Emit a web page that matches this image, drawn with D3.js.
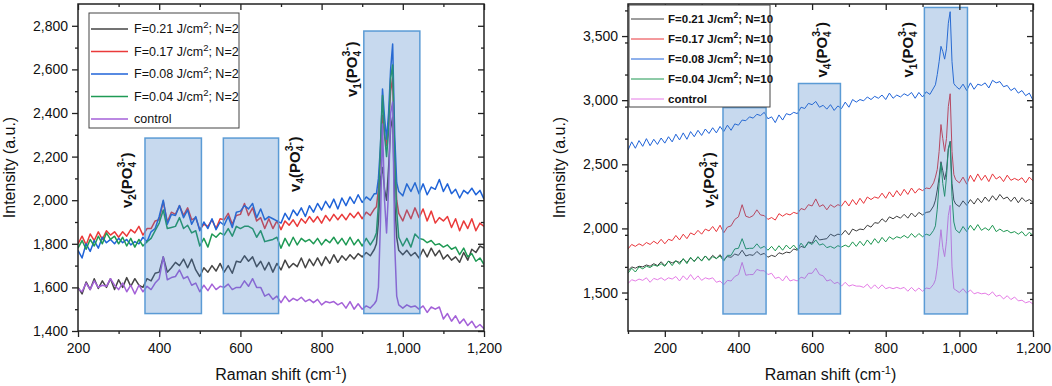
<!DOCTYPE html>
<html lang="en">
<head>
<meta charset="utf-8"/>
<script src="https://d3js.org/d3.v7.min.js"></script>
<style>
  body { margin: 0; background: #fff; }
  svg text { font-family: "Liberation Sans", Arial, sans-serif; fill: #111; }
</style>
</head>
<body>
<svg id="chart" width="1052" height="386"></svg>
<script>
// ---- sample positions (Raman shift, cm-1), finer around the v1 peaks ----
const shiftLeft = d3.range(200, 931, 10).concat(d3.range(935, 991, 5), d3.range(1000, 1201, 10));
const shiftRight = d3.range(100, 931, 10).concat(d3.range(935, 991, 5), d3.range(1000, 1201, 10));

const fluences = ["0.21", "0.17", "0.08", "0.04"];

// ---- left panel, N=2 ----
const n2_021 = [
  1600,1570,1625,1590,1640,1595,1630,1600,1640,1590,
  1635,1600,1645,1605,1640,1610,1600,1640,1630,1665,
  1670,1740,1670,1690,1715,1700,1730,1690,1730,1680,
  1650,1690,1670,1700,1675,1710,1670,1700,1665,1720,
  1715,1745,1720,1740,1695,1720,1680,1715,1670,1710,
  1680,1725,1690,1710,1695,1735,1690,1730,1700,1735,
  1700,1740,1710,1750,1715,1745,1725,1750,1730,1755,
  1740,1760,1745,1775,
  1800,1900,2100,2150,2050,2000,2150,2330,2380,2000,1830,1770,
  1750,1770,1745,1760,1735,1775,1740,1780,1745,1770,1730,1750,1725,1740,1715,1760,1725,1775,1760,1790,1780];
const n2_017 = [
  1800,1835,1795,1845,1815,1855,1820,1860,1840,1855,
  1830,1855,1835,1865,1850,1880,1840,1870,1870,1905,
  1910,1995,1900,1945,1935,1975,1930,1965,1910,1920,
  1865,1890,1880,1910,1870,1915,1910,1940,1890,1930,
  1935,1985,1930,1965,1905,1920,1870,1915,1870,1905,
  1865,1905,1885,1910,1880,1915,1895,1925,1900,1925,
  1895,1930,1905,1935,1910,1935,1910,1940,1920,1945,
  1915,1945,1930,1960,
  1970,2050,2200,2390,2300,2250,2350,2500,2560,2200,2000,1940,
  1905,1955,1915,1965,1920,1960,1905,1950,1895,1920,1905,1925,1875,1915,1860,1905,1870,1915,1860,1895,1880];
const n2_008 = [
  1770,1735,1800,1765,1815,1780,1830,1805,1820,1800,
  1825,1805,1820,1795,1810,1800,1830,1810,1855,1870,
  1925,2000,1890,1935,1930,1975,1920,1955,1890,1925,
  1860,1900,1870,1915,1865,1900,1885,1925,1875,1945,
  1950,1975,1960,1985,1920,1960,1910,1925,1915,1905,
  1895,1940,1910,1955,1930,1965,1925,1975,1945,1985,
  1955,1995,1965,2005,1960,2010,1975,2015,1985,2025,
  1990,2015,2000,2030,
  2030,2100,2250,2510,2380,2280,2400,2600,2716,2300,2080,2040,
  2020,2075,2040,2080,2030,2075,2025,2060,2050,2095,2040,2075,2030,2050,2010,2045,2030,2055,2025,2045,2005];
const n2_004 = [
  1780,1815,1775,1820,1790,1835,1800,1850,1820,1835,
  1800,1830,1790,1825,1785,1820,1790,1810,1825,1860,
  1895,1955,1870,1875,1880,1920,1870,1885,1850,1860,
  1790,1825,1785,1845,1830,1850,1840,1870,1835,1880,
  1870,1880,1880,1870,1830,1860,1810,1815,1820,1830,
  1780,1825,1790,1830,1795,1825,1810,1820,1800,1825,
  1795,1820,1805,1830,1800,1825,1795,1830,1795,1820,
  1790,1825,1795,1825,
  1850,1980,2250,2480,2300,2200,2320,2560,2620,2200,1950,1830,
  1790,1825,1785,1845,1825,1820,1805,1815,1795,1800,1785,1795,1775,1785,1750,1780,1740,1755,1720,1735,1705];
const n2_control = [
  1595,1580,1620,1590,1630,1600,1610,1605,1640,1610,
  1590,1620,1580,1610,1570,1610,1580,1605,1590,1620,
  1640,1740,1635,1645,1650,1680,1640,1650,1610,1620,
  1580,1610,1585,1615,1590,1605,1600,1615,1590,1600,
  1600,1630,1605,1640,1600,1600,1560,1570,1545,1560,
  1530,1560,1535,1550,1540,1555,1535,1545,1530,1545,
  1520,1535,1530,1535,1520,1530,1505,1535,1500,1525,
  1500,1515,1505,1525,
  1540,1600,1900,2350,2000,1850,2050,2400,2450,1800,1560,1520,
  1505,1520,1510,1515,1500,1515,1485,1510,1500,1510,1455,1480,1445,1470,1435,1455,1425,1445,1415,1430,1410];

// ---- right panel, N=10 ----
const n10_021 = [
  1670,1700,1690,1705,1700,1715,1705,1725,1710,1740,
  1710,1745,1730,1745,1735,1760,1735,1770,1745,1775,
  1750,1785,1755,1790,1765,1795,1755,1780,1775,1800,
  1790,1830,1785,1795,1790,1820,1795,1805,1775,1790,
  1780,1810,1800,1815,1810,1840,1830,1860,1850,1895,
  1885,1945,1910,1915,1920,1955,1940,1955,1950,1985,
  1950,1995,1980,1995,1990,2025,2010,2045,2040,2075,
  2050,2090,2075,2095,2080,2110,2080,2120,2090,2125,
  2105,2125,2130,2175,
  2220,2300,2400,2520,2450,2380,2450,2620,2680,2350,2220,2190,
  2170,2215,2180,2225,2190,2235,2200,2245,2210,2255,2220,2265,2230,2245,2210,2245,2200,2240,2210,2225,2205];
const n10_017 = [
  1840,1875,1860,1880,1865,1890,1875,1900,1880,1915,
  1880,1915,1905,1945,1910,1955,1920,1965,1950,1985,
  1955,1995,1980,2015,1975,2025,1965,2010,2020,2070,
  2090,2185,2095,2085,2100,2145,2105,2100,2070,2085,
  2065,2115,2095,2115,2105,2125,2115,2155,2145,2185,
  2175,2230,2170,2185,2145,2185,2165,2185,2175,2215,
  2175,2225,2185,2235,2195,2245,2225,2245,2235,2275,
  2235,2285,2245,2295,2255,2305,2265,2315,2275,2310,
  2295,2315,2310,2355,
  2400,2460,2600,2810,2700,2600,2700,2950,3050,2600,2420,2380,
  2355,2400,2345,2415,2365,2425,2375,2415,2365,2425,2385,2405,2365,2415,2375,2390,2375,2395,2355,2400,2370];
const n10_008 = [
  2610,2675,2625,2685,2640,2700,2645,2695,2655,2705,
  2665,2715,2675,2735,2690,2745,2695,2755,2715,2765,
  2725,2775,2740,2785,2745,2795,2755,2805,2765,2815,
  2805,2845,2840,2870,2860,2890,2880,2905,2855,2870,
  2825,2885,2845,2895,2885,2905,2895,2945,2935,2975,
  2965,2990,2945,2960,2930,2965,2920,2955,2935,2985,
  2945,3005,2985,3005,2995,3025,3005,3030,3015,3040,
  3005,3055,3015,3040,3025,3050,3035,3060,3015,3060,
  3025,3065,3045,3095,
  3120,3200,3300,3420,3380,3320,3400,3600,3690,3300,3130,3110,
  3085,3125,3075,3135,3085,3125,3115,3135,3095,3155,3135,3145,3105,3115,3075,3095,3055,3075,3035,3055,3000];
const n10_004 = [
  1650,1690,1660,1700,1685,1705,1695,1715,1705,1725,
  1705,1745,1710,1750,1720,1765,1725,1775,1740,1780,
  1745,1785,1750,1780,1765,1785,1745,1790,1790,1840,
  1845,1920,1840,1845,1845,1880,1845,1860,1830,1860,
  1825,1865,1830,1870,1840,1870,1835,1885,1850,1890,
  1875,1910,1870,1880,1850,1860,1845,1865,1855,1870,
  1855,1895,1860,1900,1865,1910,1875,1920,1885,1930,
  1895,1935,1915,1935,1925,1945,1925,1960,1930,1960,
  1935,1955,1945,1985,
  2020,2150,2350,2510,2350,2250,2400,2620,2670,2250,2050,1990,
  1965,2015,1975,2025,1985,2030,1985,2005,1985,2025,1975,1995,1975,1985,1965,1975,1955,1975,1940,1970,1945];
const n10_control = [
  1570,1600,1590,1605,1595,1615,1580,1610,1600,1615,
  1595,1615,1605,1625,1590,1630,1600,1640,1600,1630,
  1595,1615,1605,1615,1580,1590,1560,1595,1590,1625,
  1640,1735,1635,1640,1640,1680,1670,1670,1640,1650,
  1610,1620,1590,1630,1590,1600,1590,1620,1610,1650,
  1650,1690,1640,1630,1590,1600,1570,1580,1550,1580,
  1550,1560,1550,1550,1540,1565,1530,1560,1530,1560,
  1530,1540,1530,1540,1530,1540,1510,1540,1510,1535,
  1510,1535,1530,1565,
  1600,1700,1850,1990,1850,1780,1900,2100,2180,1700,1530,1520,
  1500,1530,1495,1520,1490,1500,1490,1495,1480,1505,1470,1480,1450,1475,1445,1465,1435,1440,1420,1430,1410];

// shaded band regions [from, to, top]
const bandsLeft = [[365, 504, 2285], [558, 694, 2285], [904, 1042, 2776]];
const bandsRight = [[358, 475, 2942], [563, 677, 3130], [905, 1022, 3723]];
const bandBottomLeft = 1480, bandBottomRight = 1333;

// mode labels: [index, x, y]
const modesLeft = [["2", 333, 1964], ["4", 748, 2038], ["1", 886, 2473]];
const modesRight = [["2", 334, 2161], ["4", 641, 3177], ["1", 873, 3177]];

const yTicksLeft = d3.range(1400, 2801, 200);
const yTicksRight = [1500, 2000, 2500, 3000, 3500];
const xTicks = [200, 400, 600, 800, 1000, 1200];

const svg = d3.select("#chart");
const fmt = d3.format(",");

function panel(cfg) {
  const g = svg.append("g");
  const x = d3.scaleLinear().domain(cfg.xDomain).range([cfg.x0, cfg.x1]);
  const y = d3.scaleLinear().domain(cfg.yDomain).range([cfg.y1, cfg.y0]);

  g.append("clipPath").attr("id", cfg.id + "clip")
    .append("rect")
      .attr("x", cfg.x0).attr("y", cfg.y0)
      .attr("width", cfg.x1 - cfg.x0).attr("height", cfg.y1 - cfg.y0);

  const line = d3.line().x((d) => x(d[0])).y((d) => y(d[1]));
  g.append("g").attr("clip-path", `url(#${cfg.id}clip)`)
    .selectAll("path")
    .data(cfg.series)
    .join("path")
      .attr("fill", "none")
      .attr("stroke", (d, i) => cfg.colors[i])
      .attr("stroke-width", cfg.lineWidth)
      .attr("stroke-linejoin", "round")
      .attr("d", (d) => line(cfg.xs.map((v, i) => [v, d[i]])));

  // translucent bands drawn over the spectra
  g.append("g").selectAll("rect")
    .data(cfg.bands)
    .join("rect")
      .attr("x", (d) => x(d[0]))
      .attr("y", (d) => y(d[2]))
      .attr("width", (d) => x(d[1]) - x(d[0]))
      .attr("height", (d) => y(cfg.bandBottom) - y(d[2]))
      .attr("fill", "rgba(62,125,195,0.29)")
      .attr("stroke", "#5b9bd5")
      .attr("stroke-width", 1.5);

  // axes
  const minorX = d3.range(cfg.xDomain[0], cfg.xDomain[1] + 1, 100).filter((v) => !xTicks.includes(v));
  const minorY = d3.range(cfg.yDomain[0], cfg.yDomain[1], cfg.yMinor).filter((v) => !cfg.yTicks.includes(v) && v > cfg.yDomain[0]);

  const axes = [
    [d3.axisBottom(x).tickValues(xTicks).tickSize(6).tickPadding(6).tickFormat(fmt), `translate(0,${cfg.y1})`],
    [d3.axisBottom(x).tickValues(minorX).tickSize(3).tickFormat(""), `translate(0,${cfg.y1})`],
    [d3.axisLeft(y).tickValues(cfg.yTicks).tickSize(6).tickPadding(4).tickFormat(fmt), `translate(${cfg.x0},0)`],
    [d3.axisLeft(y).tickValues(minorY).tickSize(3).tickFormat(""), `translate(${cfg.x0},0)`],
    [d3.axisBottom(x).tickValues(xTicks).tickSize(6).tickFormat(""), `translate(0,${cfg.y0})`],
    [d3.axisBottom(x).tickValues(minorX).tickSize(3).tickFormat(""), `translate(0,${cfg.y0})`],
    [d3.axisLeft(y).tickValues(cfg.yTicks).tickSize(6).tickFormat(""), `translate(${cfg.x1},0)`],
    [d3.axisLeft(y).tickValues(minorY).tickSize(3).tickFormat(""), `translate(${cfg.x1},0)`]
  ];
  axes.forEach(([ax, tr]) => {
    const a = g.append("g").attr("transform", tr).call(ax);
    a.select(".domain").remove();
    a.selectAll("line").attr("stroke", "#222").attr("stroke-width", 1.3);
    a.selectAll("text").attr("font-size", 14).attr("fill", "#111")
      .style("font-family", '"Liberation Sans", Arial, sans-serif');
  });

  g.append("rect")
    .attr("x", cfg.x0).attr("y", cfg.y0)
    .attr("width", cfg.x1 - cfg.x0).attr("height", cfg.y1 - cfg.y0)
    .attr("fill", "none").attr("stroke", "#222").attr("stroke-width", 1.5);

  // v-mode labels, rotated
  cfg.modes.forEach(([k, mx, my]) => {
    const t = g.append("text")
      .attr("transform", `translate(${x(mx)},${y(my)}) rotate(-90)`)
      .attr("font-size", 15).attr("font-weight", "bold");
    t.append("tspan").text("v");
    t.append("tspan").attr("font-size", 10).attr("dy", 4).text(k);
    t.append("tspan").attr("dy", -4).text("(PO");
    t.append("tspan").attr("font-size", 10).attr("dy", 4).text("4");
    t.append("tspan").attr("font-size", 10.5).attr("dx", -5.5).attr("dy", -11).text("3-");
    t.append("tspan").attr("dx", 0.5).attr("dy", 7).text(")");
  });

  // axis titles
  g.append("text")
    .attr("x", (cfg.x0 + cfg.x1) / 2).attr("y", 380)
    .attr("text-anchor", "middle").attr("font-size", 16)
    .call((t) => {
      t.append("tspan").text("Raman shift (cm");
      t.append("tspan").attr("font-size", 11).attr("dy", -6).text("-1");
      t.append("tspan").attr("dy", 6).text(")");
    });
  g.append("text")
    .attr("transform", `translate(${cfg.titleX},${(cfg.y0 + cfg.y1) / 2}) rotate(-90)`)
    .attr("text-anchor", "middle").attr("font-size", 16)
    .text("Intensity (a.u.)");

  // legend
  const L = cfg.legend;
  g.append("rect")
    .attr("x", L.x).attr("y", L.y).attr("width", L.w).attr("height", L.h)
    .attr("fill", "#fff").attr("stroke", "#444").attr("stroke-width", 1);
  cfg.labels.forEach((lab, i) => {
    const ry = L.y + L.first + i * L.step;
    g.append("line")
      .attr("x1", L.x + 2).attr("x2", L.x + 2 + L.lineLen)
      .attr("y1", ry).attr("y2", ry)
      .attr("stroke", cfg.colors[i]).attr("stroke-width", cfg.lineWidth);
    const t = g.append("text")
      .attr("x", L.x + L.textOff).attr("y", ry + 4)
      .attr("font-size", L.font).attr("font-weight", L.weight);
    if (lab === "control") {
      t.text(lab);
    } else {
      t.append("tspan").text(`F=${lab} J/cm`);
      t.append("tspan").attr("font-size", L.font - 3).attr("dy", -5).text("2");
      t.append("tspan").attr("dy", 5).text(`; N=${cfg.shots}`);
    }
  });
}

panel({
  id: "left", x0: 78, x1: 484, y0: 4, y1: 331,
  xDomain: [200, 1200], yDomain: [1400, 2900],
  yTicks: yTicksLeft, yMinor: 100,
  xs: shiftLeft,
  series: [n2_021, n2_017, n2_008, n2_004, n2_control],
  colors: ["#454545", "#ea3a3a", "#1f63d8", "#1f9a55", "#a461d8"],
  lineWidth: 1.5,
  bands: bandsLeft, bandBottom: bandBottomLeft,
  modes: modesLeft,
  titleX: 15,
  labels: fluences.concat(["control"]), shots: 2,
  legend: { x: 89, y: 13, w: 150, h: 115, first: 16, step: 22.5, lineLen: 37, textOff: 45, font: 12.5, weight: "normal" }
});

panel({
  id: "right", x0: 628, x1: 1033, y0: 4, y1: 331,
  xDomain: [100, 1200], yDomain: [1200, 3750],
  yTicks: yTicksRight, yMinor: 250,
  xs: shiftRight,
  series: [n10_021, n10_017, n10_008, n10_004, n10_control],
  colors: ["#3d3d3d", "#e8343a", "#1f63d8", "#1c9650", "#e57be6"],
  lineWidth: 1,
  bands: bandsRight, bandBottom: bandBottomRight,
  modes: modesRight,
  titleX: 565,
  labels: fluences.concat(["control"]), shots: 10,
  legend: { x: 629, y: 5, w: 141, h: 102, first: 14, step: 20, lineLen: 33, textOff: 39, font: 11.5, weight: "bold" }
});
</script>
</body>
</html>
